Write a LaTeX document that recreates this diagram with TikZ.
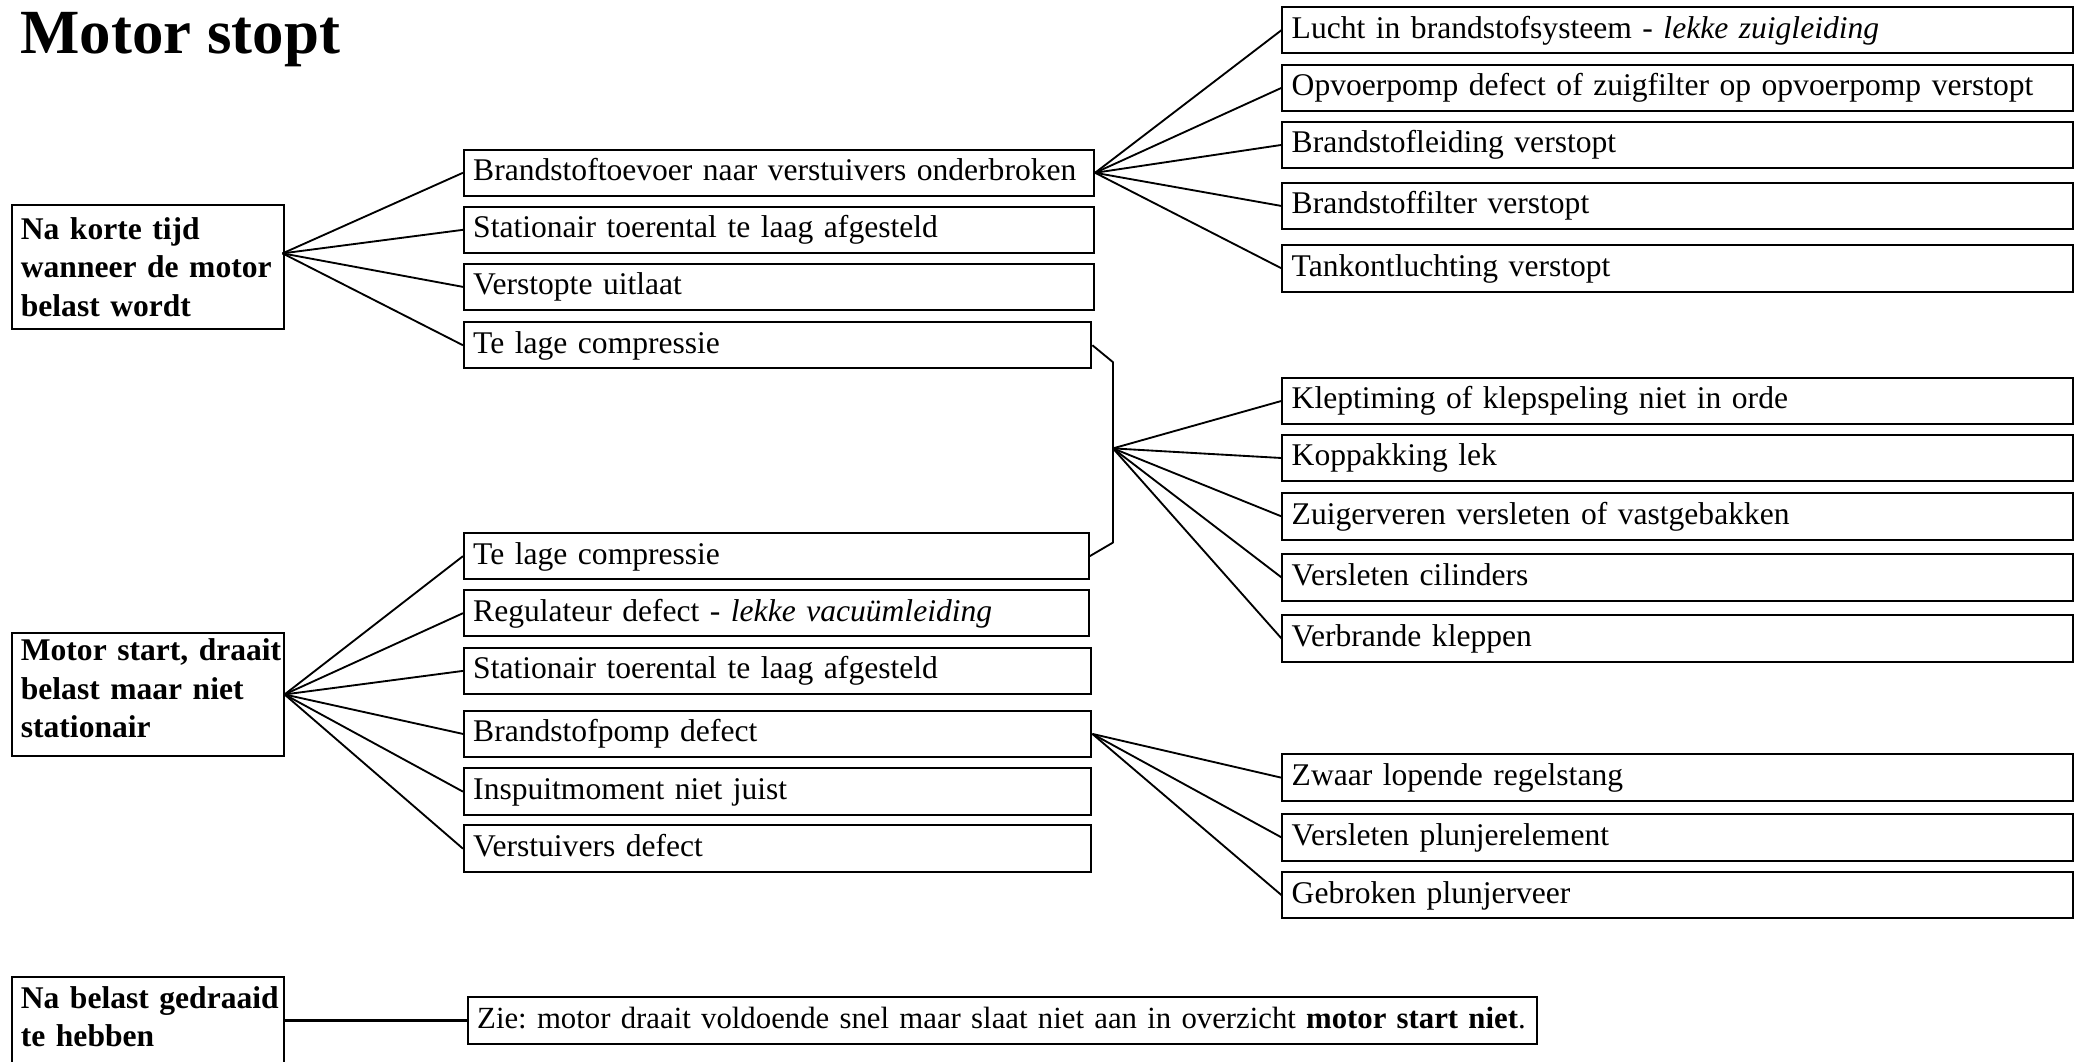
\documentclass[tikz,border=0pt]{standalone}
\usepackage{fontspec}
\setmainfont{Liberation Serif}
\frenchspacing
\begin{document}
\begin{tikzpicture}[x=0.5pt,y=-0.5pt,
  box/.style={draw, line width=0.75pt, anchor=north west, inner xsep=3.5pt, inner ysep=0pt, align=left, font=\fontsize{11.9}{14.5}\selectfont},
  sbox/.style={box, text height=11.75pt, text depth=5.75pt, text width=#1},
  bbox/.style={box, font=\fontsize{11.9}{14.5}\selectfont\bfseries, text width=95.5pt},
  con/.style={line width=0.7pt, line join=round}]
\useasboundingbox (0,0) rectangle (1568,800);
\clip (0,0) rectangle (1568,800);

\node[anchor=base west, inner sep=0pt, font=\fontsize{23.7}{28}\selectfont\bfseries] (title) at (15,40) {Motor stopt};

% left boxes
\node[bbox, text height=12.85pt, text depth=33.65pt] (A) at (8,154) {\mbox{Na korte tijd}\\\mbox{wanneer de motor}\\\mbox{belast wordt}};
\node[bbox, text height=10.5pt, text depth=35.75pt] (B) at (8,476.5) {\mbox{Motor start, draait}\\\mbox{belast maar niet}\\\mbox{stationair}};
\node[bbox, text height=12pt, text depth=22.75pt] (C) at (8,735.5) {\mbox{Na belast gedraaid}\\\mbox{te hebben}};

% middle boxes
\node[sbox=230.5pt] (M1) at (349,112) {Brandstoftoevoer naar verstuivers onderbroken};
\node[sbox=230.5pt] (M2) at (349,155) {Stationair toerental te laag afgesteld};
\node[sbox=230.5pt] (M3) at (349,198) {Verstopte uitlaat};
\node[sbox=229.5pt] (M4) at (349,242) {Te lage compressie};
\node[sbox=228.5pt] (M5) at (349,401) {Te lage compressie};
\node[sbox=228.5pt] (M6) at (349,444) {Regulateur defect - \textit{lekke vacuümleiding}};
\node[sbox=229.5pt] (M7) at (349,487.5) {Stationair toerental te laag afgesteld};
\node[sbox=229.5pt] (M8) at (349,535) {Brandstofpomp defect};
\node[sbox=229.5pt] (M9) at (349,578.5) {Inspuitmoment niet juist};
\node[sbox=229.5pt] (M10) at (349,621.5) {Verstuivers defect};

% right boxes
\node[sbox=291pt] (R1) at (966,4.5) {Lucht in brandstofsysteem - \textit{lekke zuigleiding}};
\node[sbox=291pt] (R2) at (966,48) {Opvoerpomp defect of zuigfilter op opvoerpomp verstopt};
\node[sbox=291pt] (R3) at (966,91) {Brandstofleiding verstopt};
\node[sbox=291pt] (R4) at (966,137) {Brandstoffilter verstopt};
\node[sbox=291pt] (R5) at (966,184) {Tankontluchting verstopt};
\node[sbox=291pt] (R6) at (966,284) {Kleptiming of klepspeling niet in orde};
\node[sbox=291pt] (R7) at (966,327) {Koppakking lek};
\node[sbox=291pt] (R8) at (966,371) {Zuigerveren versleten of vastgebakken};
\node[sbox=291pt] (R9) at (966,417) {Versleten cilinders};
\node[sbox=291pt] (R10) at (966,463) {Verbrande kleppen};
\node[sbox=291pt] (R11) at (966,568) {Zwaar lopende regelstang};
\node[sbox=291pt] (R12) at (966,613) {Versleten plunjerelement};
\node[sbox=291pt] (R13) at (966,656.5) {Gebroken plunjerveer};

\node[sbox=396pt, font=\fontsize{11.6}{14.5}\selectfont] (Z) at (352,751) {\mbox{Zie: motor draait voldoende snel maar slaat niet aan in overzicht \textbf{motor start niet}.}};

% connectors
\coordinate (fa) at (213,191);
\foreach \m in {M1,M2,M3,M4} \draw[con] (fa) -- (\m.west);
\foreach \m in {M5,M6,M7,M8,M9,M10} \draw[con] (B.east) -- (\m.west);
\foreach \r in {R1,R2,R3,R4,R5} \draw[con] (M1.east) -- (\r.west);
\coordinate (bt) at (839,273);
\coordinate (bb) at (839,409);
\coordinate (fc) at (839,338);
\draw[con] (M4.east) -- (bt) -- (bb) -- (M5.east);
\foreach \r in {R6,R7,R8,R9,R10} \draw[con] (fc) -- (\r.west);
\foreach \r in {R11,R12,R13} \draw[con] (M8.east) -- (\r.west);
\draw[con, line width=0.9pt] (Z.west -| C.east) -- (Z.west);
\end{tikzpicture}
\end{document}
